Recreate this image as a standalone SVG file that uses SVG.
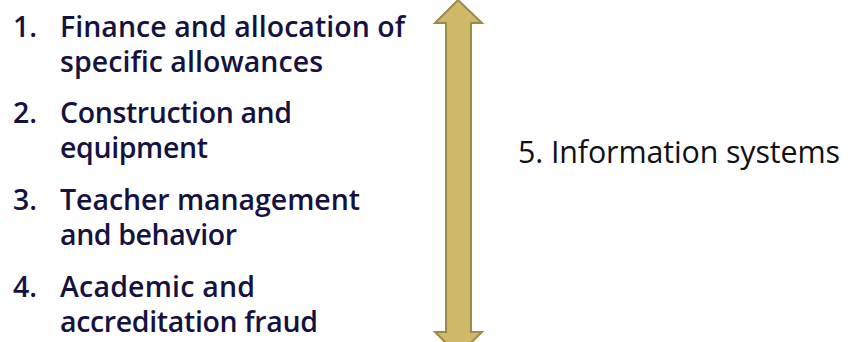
<svg xmlns="http://www.w3.org/2000/svg" width="850" height="342" viewBox="0 0 850 342">
<style>
.item{font-family:"Open Sans","Liberation Sans",Arial,sans-serif;font-size:28.5px;fill:#16123f;font-weight:600}
.info{font-family:"Open Sans","Liberation Sans",Arial,sans-serif;font-size:30.4px;fill:#111111;font-weight:500}
.arrow{fill:#cfb968;stroke:#9c8a48;stroke-width:2}
</style>
<rect width="850" height="342" fill="#ffffff"/>
<g id="list">
<g id="item1"><text class="item" x="13" y="37">1.</text><text class="item" x="60" y="37" textLength="345">Finance and allocation of</text><text class="item" x="60" y="72" textLength="263">specific allowances</text></g>
<g id="item2"><text class="item" x="13" y="123">2.</text><text class="item" x="60" y="123" textLength="232">Construction and</text><text class="item" x="60" y="158" textLength="148">equipment</text></g>
<g id="item3"><text class="item" x="13" y="210">3.</text><text class="item" x="60" y="210" textLength="300">Teacher management</text><text class="item" x="60" y="245" textLength="177">and behavior</text></g>
<g id="item4"><text class="item" x="13" y="297">4.</text><text class="item" x="60" y="297" textLength="195">Academic and</text><text class="item" x="60" y="332" textLength="258">accreditation fraud</text></g>
</g>
<g id="connectors">
<path class="arrow" d="M458,0 L482,23 L471,23 L471,332 L482,332 L458,355 L435,332 L446,332 L446,23 L435,23 Z"/>
</g>
<g id="info"><text class="info" x="518" y="163" textLength="322">5. Information systems</text></g>
</svg>
